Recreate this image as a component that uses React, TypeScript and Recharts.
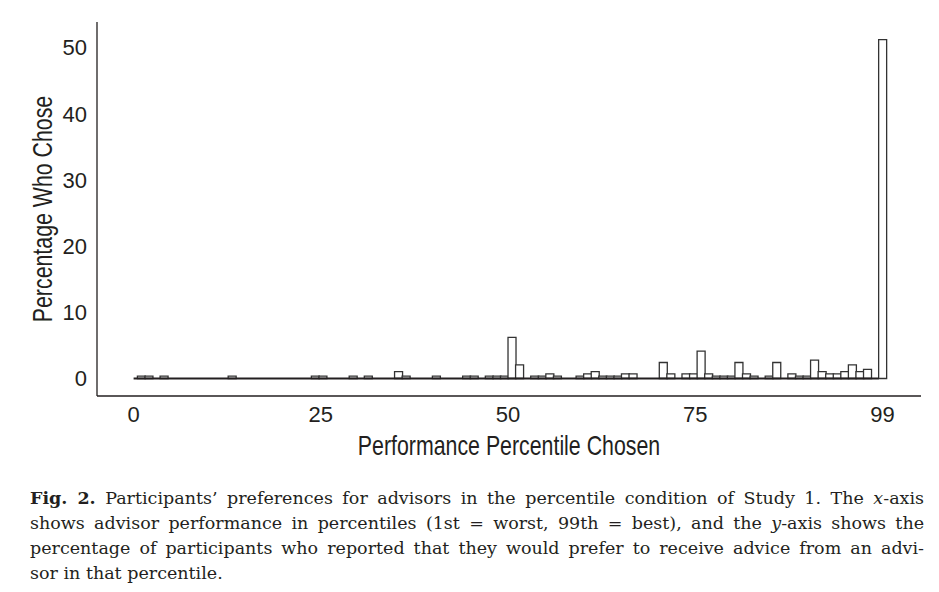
import React from 'react';
import { BarChart, Bar, XAxis, YAxis, ReferenceLine } from 'recharts';

// Percentile categories (0 = worst ... 99 = best)
const percentiles = [
  0, 1, 2, 3, 4, 5, 6, 7, 8, 9,
  10, 11, 12, 13, 14, 15, 16, 17, 18, 19,
  20, 21, 22, 23, 24, 25, 26, 27, 28, 29,
  30, 31, 32, 33, 34, 35, 36, 37, 38, 39,
  40, 41, 42, 43, 44, 45, 46, 47, 48, 49,
  50, 51, 52, 53, 54, 55, 56, 57, 58, 59,
  60, 61, 62, 63, 64, 65, 66, 67, 68, 69,
  70, 71, 72, 73, 74, 75, 76, 77, 78, 79,
  80, 81, 82, 83, 84, 85, 86, 87, 88, 89,
  90, 91, 92, 93, 94, 95, 96, 97, 98, 99,
];

// Percentage of participants who chose each percentile
const percentChose = [
  0, 0.35, 0.35, 0, 0.35, 0, 0, 0, 0, 0,
  0, 0, 0, 0.35, 0, 0, 0, 0, 0, 0,
  0, 0, 0, 0, 0.35, 0.35, 0, 0, 0, 0.35,
  0, 0.35, 0, 0, 0, 1.04, 0.35, 0, 0, 0,
  0.35, 0, 0, 0, 0.35, 0.35, 0, 0.35, 0.35, 0.35,
  6.2, 2.07, 0, 0.35, 0.35, 0.69, 0.35, 0, 0, 0.35,
  0.69, 1.04, 0.35, 0.35, 0.35, 0.69, 0.69, 0, 0, 0,
  2.42, 0.69, 0, 0.69, 0.69, 4.15, 0.69, 0.35, 0.35, 0.35,
  2.42, 0.69, 0.35, 0, 0.35, 2.42, 0, 0.69, 0.35, 0.35,
  2.77, 1.04, 0.69, 0.69, 1.04, 2.07, 1.04, 1.38, 0, 51.2,
];

const xTickValues = [0, 24.75, 49.5, 74.25, 99];
const xTickLabels = ['0', '25', '50', '75', '99'];
const yTickValues = [0, 10, 20, 30, 40, 50];

const xTitle = 'Performance Percentile Chosen';
const yTitle = 'Percentage Who Chose';

const data = percentiles.map((p, i) => ({ p, v: percentChose[i] }));

const sansFont = "'Liberation Sans', Arial, sans-serif";
const ink = '#231f20';
const titleSize = 27;
const titleSquash = 0.79;

const XTitle = (props: any) => {
  const vb = props.viewBox || { x: 0, y: 0, width: 0, height: 0 };
  const cx = vb.x + vb.width / 2;
  const by = vb.y + 59;
  return (
    <text
      transform={`translate(${cx},${by}) scale(${titleSquash},1)`}
      textAnchor="middle"
      fill={ink}
      fontSize={titleSize}
      fontFamily={sansFont}
    >
      {xTitle}
    </text>
  );
};

const YTitle = (props: any) => {
  const vb = props.viewBox || { x: 0, y: 0, width: 0, height: 0 };
  const bx = vb.x + 52;
  const cy = vb.y + vb.height / 2;
  return (
    <text
      transform={`translate(${bx},${cy}) rotate(-90) scale(${titleSquash},1)`}
      textAnchor="middle"
      fill={ink}
      fontSize={titleSize}
      fontFamily={sansFont}
    >
      {yTitle}
    </text>
  );
};

const lineStyle: React.CSSProperties = {
  textAlign: 'justify',
  textAlignLast: 'justify',
  height: 25,
  whiteSpace: 'normal',
};

export default function App() {
  return (
    <div style={{ position: 'absolute', left: 0, top: 0, width: 939, height: 592, background: '#fff', overflow: 'hidden' }}>
      <BarChart
        width={939}
        height={470}
        data={data}
        margin={{ top: 22, right: 18, bottom: 0, left: 0 }}
        barCategoryGap={0}
        barGap={0}
      >
        <XAxis
          dataKey="p"
          type="number"
          domain={[-4.84, 104.1]}
          allowDataOverflow
          ticks={xTickValues}
          interval={0}
          tickFormatter={(v: number) => xTickLabels[xTickValues.indexOf(v)]}
          height={74}
          axisLine={{ stroke: ink, strokeWidth: 1.3 }}
          tickLine={false}
          tickSize={0}
          tickMargin={10}
          tick={{ fill: ink, fontSize: 22, fontFamily: sansFont }}
          label={{ content: XTitle }}
        />
        <YAxis
          type="number"
          domain={[-2.64, 53.85]}
          allowDataOverflow
          ticks={yTickValues}
          interval={0}
          width={97}
          axisLine={{ stroke: ink, strokeWidth: 1.3 }}
          tickLine={false}
          tickSize={0}
          tickMargin={10}
          tick={{ fill: ink, fontSize: 22, fontFamily: sansFont }}
          label={{ content: YTitle }}
        />
        <ReferenceLine
          segment={[{ x: 0, y: 0 }, { x: 98.5, y: 0 }]}
          stroke={ink}
          strokeWidth={2.2}
          ifOverflow="visible"
        />
        <Bar
          dataKey="v"
          fill="#ffffff"
          stroke="#333333"
          strokeWidth={1.3}
          isAnimationActive={false}
        />
      </BarChart>
      <div
        style={{
          position: 'absolute',
          left: 30,
          top: 486,
          width: 894,
          fontFamily: "'DejaVu Serif', 'Liberation Serif', serif",
          fontSize: 17.5,
          lineHeight: '25px',
          color: ink,
        }}
      >
        <div style={lineStyle}>
          <b>Fig. 2.</b> Participants’ preferences for advisors in the percentile condition of Study 1. The <i>x</i>-axis
        </div>
        <div style={lineStyle}>
          shows advisor performance in percentiles (1st = worst, 99th = best), and the <i>y</i>-axis shows the
        </div>
        <div style={lineStyle}>
          percentage of participants who reported that they would prefer to receive advice from an advi-
        </div>
        <div style={{ height: 25 }}>sor in that percentile.</div>
      </div>
    </div>
  );
}
